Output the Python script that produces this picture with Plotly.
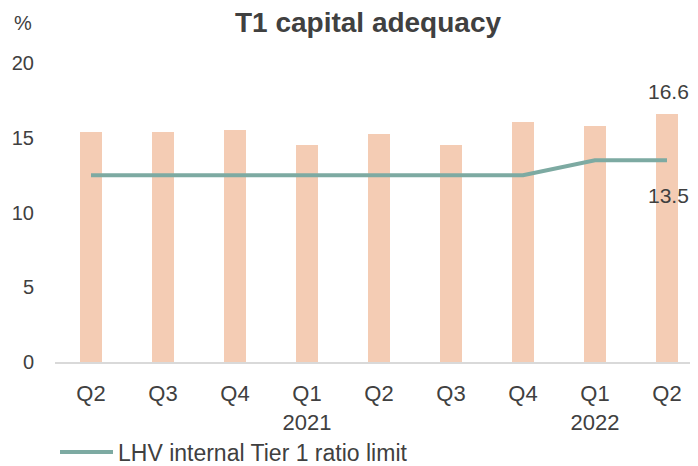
import plotly.graph_objects as go

quarters = ["Q2", "Q3", "Q4", "Q1", "Q2", "Q3", "Q4", "Q1", "Q2"]
years = ["", "", "", "2021", "", "", "", "2022", ""]
t1_ratio = [15.4, 15.4, 15.55, 14.5, 15.25, 14.5, 16.05, 15.8, 16.6]
internal_limit = [12.5, 12.5, 12.5, 12.5, 12.5, 12.5, 12.5, 13.5, 13.5]
y_ticks = [0, 5, 10, 15, 20]

positions = list(range(len(quarters)))
tick_text = [q + ("<br>" + y if y else "") for q, y in zip(quarters, years)]

BAR = "#F4CCB4"
LINE = "#7DAAA2"
TXT = "#404040"
FONT = "Liberation Sans"

# page body adds an 8px margin, so the figure is sized/offset accordingly
OFF = 8
W, H = 698 - OFF, 466 - OFF

def f(size, color=TXT):
    return dict(size=size, color=color, family=FONT)

fig = go.Figure()
fig.add_trace(go.Bar(
    x=positions, y=t1_ratio, marker_color=BAR, marker_line_width=0,
    width=0.3, showlegend=False, name="T1 capital adequacy",
))
fig.add_trace(go.Scatter(
    x=positions, y=internal_limit, mode="lines",
    line=dict(color=LINE, width=4),
    name="LHV internal Tier 1 ratio limit",
))

fig.add_annotation(x=positions[-1], y=t1_ratio[-1], text=f"{t1_ratio[-1]:.1f}",
                   showarrow=False, yshift=22, xshift=1, font=f(21))
fig.add_annotation(x=positions[-1], y=internal_limit[-1], text=f"{internal_limit[-1]:.1f}",
                   showarrow=False, yshift=-35, xshift=1, font=f(21))
fig.add_annotation(xref="paper", yref="paper", x=(23 - 55) / 643, y=1.0, yshift=40,
                   text="%", showarrow=False, xanchor="center", yanchor="middle",
                   font=f(20))

fig.update_layout(
    width=W, height=H,
    margin=dict(l=55 - OFF, r=0, t=63 - OFF, b=466 - 362.5),
    paper_bgcolor="white", plot_bgcolor="white",
    title=dict(text="T1 capital adequacy", x=(368 - OFF) / W, xanchor="center",
               y=1 - (22 - OFF) / H, yanchor="middle",
               font=dict(size=28, color="#404040", family=FONT, weight="bold")),
    font=f(20),
    xaxis=dict(tickmode="array", tickvals=positions, ticktext=tick_text,
               range=[-0.5, -0.5 + 643 / 72], showgrid=False, zeroline=False,
               showline=True, linecolor="#D9D9D9", linewidth=2, automargin=False,
               ticks="", tickfont=f(22), ticklabelstandoff=11),
    yaxis=dict(range=[0, 20], tickvals=y_ticks, showgrid=False, zeroline=False,
               showline=False, ticks="", ticklabelstandoff=20, automargin=False,
               tickfont=f(20)),
    legend=dict(orientation="h", x=(55 - OFF) / W, xref="container", xanchor="left",
                y=1 - (452 - OFF) / H, yref="container", yanchor="middle",
                itemwidth=53, font=f(23), bgcolor="rgba(0,0,0,0)"),
    bargap=0,
)

fig.write_html("out.html")
